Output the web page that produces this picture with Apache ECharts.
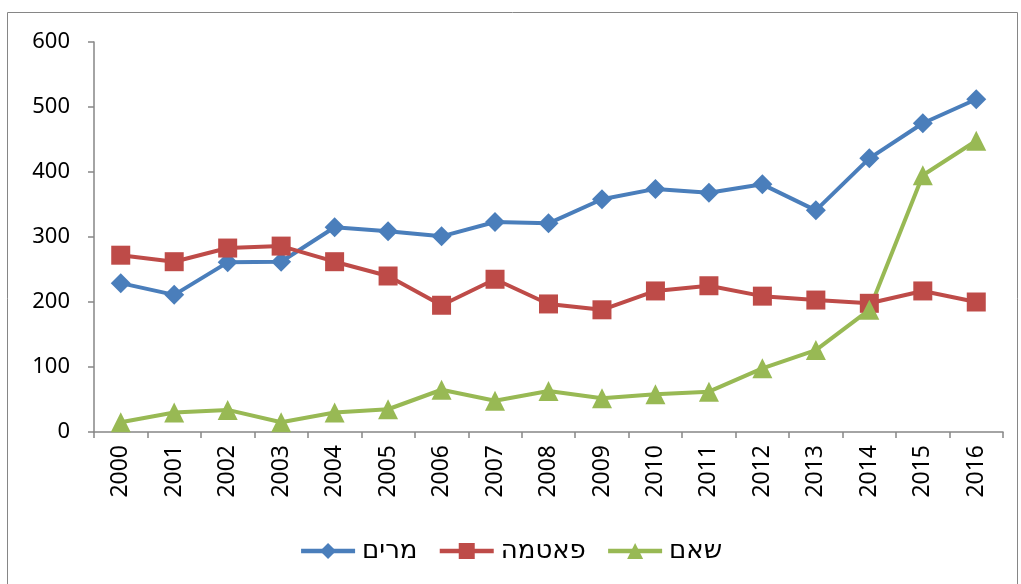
<!DOCTYPE html>
<html>
<head>
<meta charset="utf-8">
<script src="https://cdn.jsdelivr.net/npm/echarts@6/dist/echarts.min.js"></script>
<style>
  html, body { margin: 0; padding: 0; background: #fff; }
  #chart { width: 1021px; height: 584px; }
</style>
</head>
<body>
<div id="chart"></div>
<script>
// years on the x axis
const years = ['2000', '2001', '2002', '2003', '2004', '2005', '2006', '2007', '2008',
  '2009', '2010', '2011', '2012', '2013', '2014', '2015', '2016'];

// values
const miriam = [229, 211, 261, 262, 315, 309, 301, 323, 321, 358, 374, 368, 381, 341, 421, 475, 512];
const fatma = [272, 262, 283, 286, 262, 240, 195, 235, 197, 188, 217, 225, 209, 203, 198, 217, 200];
const sham = [15, 30, 34, 15, 30, 35, 65, 48, 63, 52, 58, 62, 98, 126, 188, 395, 448];

const seriesNames = ['מרים', 'פאטמה', 'שאם'];
const yTicks = [0, 100, 200, 300, 400, 500, 600];

const font = '"Noto Sans", "DejaVu Sans", sans-serif';
const axisGray = '#868686';

const chart = echarts.init(document.getElementById('chart'));

const option = {
  backgroundColor: '#fff',
  animation: false,
  textStyle: { fontFamily: font },
  graphic: [
    {
      type: 'rect',
      shape: { x: 7.5, y: 12.5, width: 1010, height: 600 },
      style: { fill: 'none', stroke: '#868686', lineWidth: 1 },
      silent: true
    }
  ],
  grid: { left: 94, right: 18, top: 42, bottom: 152 },
  legend: {
    data: seriesNames,
    top: 533,
    left: 'center',
    itemWidth: 54,
    itemHeight: 20,
    itemGap: 20,
    lineStyle: { width: 4.5 },
    textStyle: { fontSize: 26, color: '#000', fontFamily: font, padding: [0, 0, 0, 2] }
  },
  xAxis: {
    type: 'category',
    data: years,
    boundaryGap: true,
    axisLine: { lineStyle: { color: axisGray, width: 1.5 } },
    axisTick: { show: true, length: 6, lineStyle: { color: axisGray, width: 1.5 } },
    axisLabel: { rotate: 90, fontSize: 23, color: '#000', margin: 13, interval: 0 },
    splitLine: { show: false }
  },
  yAxis: {
    type: 'value',
    min: yTicks[0],
    max: yTicks[yTicks.length - 1],
    interval: 100,
    axisLine: { show: true, lineStyle: { color: axisGray, width: 1.5 } },
    axisTick: { show: true, length: 6, lineStyle: { color: axisGray, width: 1.5 } },
    axisLabel: { fontSize: 22, color: '#000', margin: 24 },
    splitLine: { show: false }
  },
  series: [
    {
      name: seriesNames[0],
      type: 'line',
      data: miriam,
      symbol: 'diamond',
      symbolSize: 20,
      itemStyle: { color: '#4A7EBB' },
      lineStyle: { color: '#4A7EBB', width: 4 }
    },
    {
      name: seriesNames[1],
      type: 'line',
      data: fatma,
      symbol: 'rect',
      symbolSize: 19,
      itemStyle: { color: '#BE4B48' },
      lineStyle: { color: '#BE4B48', width: 4 }
    },
    {
      name: seriesNames[2],
      type: 'line',
      data: sham,
      symbol: 'triangle',
      symbolSize: 20,
      itemStyle: { color: '#98B954' },
      lineStyle: { color: '#98B954', width: 4 }
    }
  ]
};

chart.setOption(option);
</script>
</body>
</html>
